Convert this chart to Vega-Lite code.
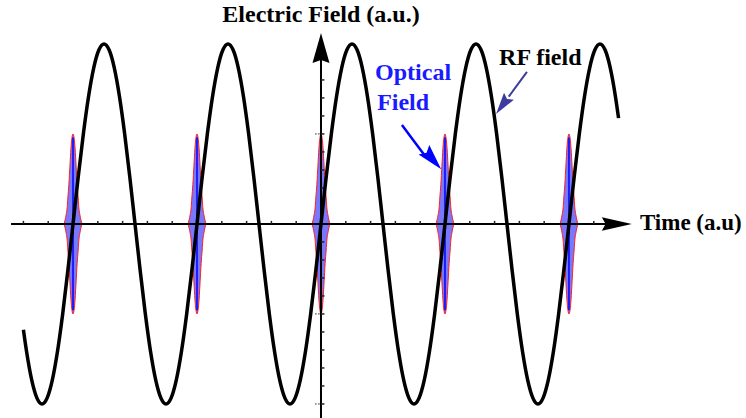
{
  "$schema": "https://vega.github.io/schema/vega-lite/v6.json",
  "width": 746,
  "height": 418,
  "padding": 0,
  "autosize": {"type": "none"},
  "background": "white",
  "config": {"view": {"stroke": null}},
  "data": {"values": [{"one": 1}]},
  "datasets": {
    "rf": [
      {"x":-864,"E":-0.5878},{"x":-855,"E":-0.7071},{"x":-840,"E":-0.866},{"x":-825,"E":-0.9659},{"x":-810,"E":-1},{"x":-795,"E":-0.9659},{"x":-780,"E":-0.866},{"x":-765,"E":-0.7071},{"x":-750,"E":-0.5},{"x":-735,"E":-0.2588},
      {"x":-720,"E":0},{"x":-705,"E":0.2588},{"x":-690,"E":0.5},{"x":-675,"E":0.7071},{"x":-660,"E":0.866},{"x":-645,"E":0.9659},{"x":-630,"E":1},{"x":-615,"E":0.9659},{"x":-600,"E":0.866},{"x":-585,"E":0.7071},{"x":-570,"E":0.5},{"x":-555,"E":0.2588},
      {"x":-540,"E":0},{"x":-525,"E":-0.2588},{"x":-510,"E":-0.5},{"x":-495,"E":-0.7071},{"x":-480,"E":-0.866},{"x":-465,"E":-0.9659},{"x":-450,"E":-1},{"x":-435,"E":-0.9659},{"x":-420,"E":-0.866},{"x":-405,"E":-0.7071},{"x":-390,"E":-0.5},{"x":-375,"E":-0.2588},
      {"x":-360,"E":0},{"x":-345,"E":0.2588},{"x":-330,"E":0.5},{"x":-315,"E":0.7071},{"x":-300,"E":0.866},{"x":-285,"E":0.9659},{"x":-270,"E":1},{"x":-255,"E":0.9659},{"x":-240,"E":0.866},{"x":-225,"E":0.7071},{"x":-210,"E":0.5},{"x":-195,"E":0.2588},
      {"x":-180,"E":0},{"x":-165,"E":-0.2588},{"x":-150,"E":-0.5},{"x":-135,"E":-0.7071},{"x":-120,"E":-0.866},{"x":-105,"E":-0.9659},{"x":-90,"E":-1},{"x":-75,"E":-0.9659},{"x":-60,"E":-0.866},{"x":-45,"E":-0.7071},{"x":-30,"E":-0.5},{"x":-15,"E":-0.2588},
      {"x":0,"E":0},{"x":15,"E":0.2588},{"x":30,"E":0.5},{"x":45,"E":0.7071},{"x":60,"E":0.866},{"x":75,"E":0.9659},{"x":90,"E":1},{"x":105,"E":0.9659},{"x":120,"E":0.866},{"x":135,"E":0.7071},{"x":150,"E":0.5},{"x":165,"E":0.2588},
      {"x":180,"E":0},{"x":195,"E":-0.2588},{"x":210,"E":-0.5},{"x":225,"E":-0.7071},{"x":240,"E":-0.866},{"x":255,"E":-0.9659},{"x":270,"E":-1},{"x":285,"E":-0.9659},{"x":300,"E":-0.866},{"x":315,"E":-0.7071},{"x":330,"E":-0.5},{"x":345,"E":-0.2588},
      {"x":360,"E":0},{"x":375,"E":0.2588},{"x":390,"E":0.5},{"x":405,"E":0.7071},{"x":420,"E":0.866},{"x":435,"E":0.9659},{"x":450,"E":1},{"x":465,"E":0.9659},{"x":480,"E":0.866},{"x":495,"E":0.7071},{"x":510,"E":0.5},{"x":525,"E":0.2588},
      {"x":540,"E":0},{"x":555,"E":-0.2588},{"x":570,"E":-0.5},{"x":585,"E":-0.7071},{"x":600,"E":-0.866},{"x":615,"E":-0.9659},{"x":630,"E":-1},{"x":645,"E":-0.9659},{"x":660,"E":-0.866},{"x":675,"E":-0.7071},{"x":690,"E":-0.5},{"x":705,"E":-0.2588},
      {"x":720,"E":0},{"x":735,"E":0.2588},{"x":750,"E":0.5},{"x":765,"E":0.7071},{"x":780,"E":0.866},{"x":795,"E":0.9659},{"x":810,"E":1},{"x":825,"E":0.9659},{"x":840,"E":0.866},{"x":855,"E":0.7071},{"x":864,"E":0.5878}
    ],
    "pulse": [
      {"p":1,"x":-746,"hi":0,"lo":0},{"p":1,"x":-743,"hi":0.022,"lo":-0.022},{"p":1,"x":-740,"hi":0.05,"lo":-0.05},{"p":1,"x":-737,"hi":0.09,"lo":-0.09},{"p":1,"x":-735,"hi":0.145,"lo":-0.145},{"p":1,"x":-732,"hi":0.22,"lo":-0.22},{"p":1,"x":-729,"hi":0.32,"lo":-0.32},{"p":1,"x":-726,"hi":0.42,"lo":-0.42},{"p":1,"x":-723,"hi":0.48,"lo":-0.48},{"p":1,"x":-720,"hi":0.5,"lo":-0.5},{"p":1,"x":-717,"hi":0.48,"lo":-0.48},{"p":1,"x":-714,"hi":0.42,"lo":-0.42},{"p":1,"x":-711,"hi":0.32,"lo":-0.32},{"p":1,"x":-708,"hi":0.22,"lo":-0.22},{"p":1,"x":-705,"hi":0.145,"lo":-0.145},{"p":1,"x":-703,"hi":0.09,"lo":-0.09},{"p":1,"x":-700,"hi":0.05,"lo":-0.05},{"p":1,"x":-697,"hi":0.022,"lo":-0.022},{"p":1,"x":-694,"hi":0,"lo":0},
      {"p":2,"x":-386,"hi":0,"lo":0},{"p":2,"x":-383,"hi":0.022,"lo":-0.022},{"p":2,"x":-380,"hi":0.05,"lo":-0.05},{"p":2,"x":-377,"hi":0.09,"lo":-0.09},{"p":2,"x":-375,"hi":0.145,"lo":-0.145},{"p":2,"x":-372,"hi":0.22,"lo":-0.22},{"p":2,"x":-369,"hi":0.32,"lo":-0.32},{"p":2,"x":-366,"hi":0.42,"lo":-0.42},{"p":2,"x":-363,"hi":0.48,"lo":-0.48},{"p":2,"x":-360,"hi":0.5,"lo":-0.5},{"p":2,"x":-357,"hi":0.48,"lo":-0.48},{"p":2,"x":-354,"hi":0.42,"lo":-0.42},{"p":2,"x":-351,"hi":0.32,"lo":-0.32},{"p":2,"x":-348,"hi":0.22,"lo":-0.22},{"p":2,"x":-345,"hi":0.145,"lo":-0.145},{"p":2,"x":-343,"hi":0.09,"lo":-0.09},{"p":2,"x":-340,"hi":0.05,"lo":-0.05},{"p":2,"x":-337,"hi":0.022,"lo":-0.022},{"p":2,"x":-334,"hi":0,"lo":0},
      {"p":3,"x":-26,"hi":0,"lo":0},{"p":3,"x":-23,"hi":0.022,"lo":-0.022},{"p":3,"x":-20,"hi":0.05,"lo":-0.05},{"p":3,"x":-17,"hi":0.09,"lo":-0.09},{"p":3,"x":-15,"hi":0.145,"lo":-0.145},{"p":3,"x":-12,"hi":0.22,"lo":-0.22},{"p":3,"x":-9,"hi":0.32,"lo":-0.32},{"p":3,"x":-6,"hi":0.42,"lo":-0.42},{"p":3,"x":-3,"hi":0.48,"lo":-0.48},{"p":3,"x":0,"hi":0.5,"lo":-0.5},{"p":3,"x":3,"hi":0.48,"lo":-0.48},{"p":3,"x":6,"hi":0.42,"lo":-0.42},{"p":3,"x":9,"hi":0.32,"lo":-0.32},{"p":3,"x":12,"hi":0.22,"lo":-0.22},{"p":3,"x":15,"hi":0.145,"lo":-0.145},{"p":3,"x":17,"hi":0.09,"lo":-0.09},{"p":3,"x":20,"hi":0.05,"lo":-0.05},{"p":3,"x":23,"hi":0.022,"lo":-0.022},{"p":3,"x":26,"hi":0,"lo":0},
      {"p":4,"x":334,"hi":0,"lo":0},{"p":4,"x":337,"hi":0.022,"lo":-0.022},{"p":4,"x":340,"hi":0.05,"lo":-0.05},{"p":4,"x":343,"hi":0.09,"lo":-0.09},{"p":4,"x":345,"hi":0.145,"lo":-0.145},{"p":4,"x":348,"hi":0.22,"lo":-0.22},{"p":4,"x":351,"hi":0.32,"lo":-0.32},{"p":4,"x":354,"hi":0.42,"lo":-0.42},{"p":4,"x":357,"hi":0.48,"lo":-0.48},{"p":4,"x":360,"hi":0.5,"lo":-0.5},{"p":4,"x":363,"hi":0.48,"lo":-0.48},{"p":4,"x":366,"hi":0.42,"lo":-0.42},{"p":4,"x":369,"hi":0.32,"lo":-0.32},{"p":4,"x":372,"hi":0.22,"lo":-0.22},{"p":4,"x":375,"hi":0.145,"lo":-0.145},{"p":4,"x":377,"hi":0.09,"lo":-0.09},{"p":4,"x":380,"hi":0.05,"lo":-0.05},{"p":4,"x":383,"hi":0.022,"lo":-0.022},{"p":4,"x":386,"hi":0,"lo":0},
      {"p":5,"x":694,"hi":0,"lo":0},{"p":5,"x":697,"hi":0.022,"lo":-0.022},{"p":5,"x":700,"hi":0.05,"lo":-0.05},{"p":5,"x":703,"hi":0.09,"lo":-0.09},{"p":5,"x":705,"hi":0.145,"lo":-0.145},{"p":5,"x":708,"hi":0.22,"lo":-0.22},{"p":5,"x":711,"hi":0.32,"lo":-0.32},{"p":5,"x":714,"hi":0.42,"lo":-0.42},{"p":5,"x":717,"hi":0.48,"lo":-0.48},{"p":5,"x":720,"hi":0.5,"lo":-0.5},{"p":5,"x":723,"hi":0.48,"lo":-0.48},{"p":5,"x":726,"hi":0.42,"lo":-0.42},{"p":5,"x":729,"hi":0.32,"lo":-0.32},{"p":5,"x":732,"hi":0.22,"lo":-0.22},{"p":5,"x":735,"hi":0.145,"lo":-0.145},{"p":5,"x":737,"hi":0.09,"lo":-0.09},{"p":5,"x":740,"hi":0.05,"lo":-0.05},{"p":5,"x":743,"hi":0.022,"lo":-0.022},{"p":5,"x":746,"hi":0,"lo":0}
    ],
    "centers": [{"x":-720},{"x":-360},{"x":0},{"x":360},{"x":720}],
    "xticks": [{"x":-864},{"x":-792},{"x":-720},{"x":-648},{"x":-576},{"x":-504},{"x":-432},{"x":-360},{"x":-288},{"x":-216},{"x":-144},{"x":-72},{"x":72},{"x":144},{"x":216},{"x":288},{"x":360},{"x":432},{"x":504},{"x":576},{"x":648},{"x":720},{"x":792}],
    "yticks": [{"y":0.8},{"y":0.7},{"y":0.6},{"y":0.5},{"y":0.4},{"y":0.3},{"y":0.2},{"y":0.1},{"y":-0.1},{"y":-0.2},{"y":-0.3},{"y":-0.4},{"y":-0.5},{"y":-0.6},{"y":-0.7},{"y":-0.8},{"y":-0.9},{"y":-1.0}],
    "ymajor": [{"y":0.5},{"y":-0.5},{"y":-1.0}]
  },
  "layer": [
    {
      "data": {"name": "pulse"},
      "mark": {"type": "area", "interpolate": "monotone", "fill": "#3f3fff", "fillOpacity": 0.7, "stroke": "#ff2020", "strokeWidth": 1},
      "encoding": {
        "x": {"field": "x", "type": "quantitative", "scale": {"domain": [-932, 1234], "nice": false, "zero": false}, "axis": null},
        "y": {"field": "hi", "type": "quantitative", "scale": {"domain": [-1.078, 1.244], "nice": false, "zero": false}, "axis": null},
        "y2": {"field": "lo"},
        "detail": {"field": "p", "type": "nominal"}
      }
    },
    {
      "data": {"name": "centers"},
      "mark": {"type": "rule", "color": "#0000ff", "strokeWidth": 1.5},
      "encoding": {
        "x": {"field": "x", "type": "quantitative"},
        "y": {"datum": -0.48, "type": "quantitative"},
        "y2": {"datum": 0.48}
      }
    },
    {
      "mark": {"type": "rule", "color": "black", "strokeWidth": 2},
      "encoding": {
        "x": {"datum": -900, "type": "quantitative"},
        "x2": {"datum": 832},
        "y": {"datum": 0, "type": "quantitative"}
      }
    },
    {
      "mark": {"type": "rule", "color": "black", "strokeWidth": 2},
      "encoding": {
        "x": {"datum": 0, "type": "quantitative"},
        "y": {"datum": -1.1, "type": "quantitative"},
        "y2": {"datum": 0.92}
      }
    },
    {
      "data": {"name": "xticks"},
      "mark": {"type": "rule", "color": "#222222", "strokeWidth": 1.5},
      "encoding": {
        "x": {"field": "x", "type": "quantitative"},
        "y": {"datum": 0, "type": "quantitative"},
        "y2": {"datum": 0.017}
      }
    },
    {
      "data": {"name": "yticks"},
      "mark": {"type": "rule", "color": "#222222", "strokeWidth": 1.5},
      "encoding": {
        "x": {"datum": 0, "type": "quantitative"},
        "x2": {"datum": 10},
        "y": {"field": "y", "type": "quantitative"}
      }
    },
    {
      "data": {"name": "ymajor"},
      "mark": {"type": "rule", "color": "#222222", "strokeWidth": 1, "strokeDash": [1.5, 1.5]},
      "encoding": {
        "x": {"datum": -17, "type": "quantitative"},
        "x2": {"datum": 0},
        "y": {"field": "y", "type": "quantitative"}
      }
    },
    {
      "mark": {"type": "point", "shape": "M1,0L-1,0.45L-0.75,0L-1,-0.45Z", "filled": true, "color": "black", "opacity": 1, "size": 900, "strokeWidth": 0},
      "encoding": {
        "x": {"datum": 859, "type": "quantitative"},
        "y": {"datum": 0, "type": "quantitative"}
      }
    },
    {
      "mark": {"type": "point", "shape": "M0,-1L0.567,1L0,0.8L-0.567,1Z", "filled": true, "color": "black", "opacity": 1, "size": 900, "strokeWidth": 0},
      "encoding": {
        "x": {"datum": 0, "type": "quantitative"},
        "y": {"datum": 0.978, "type": "quantitative"}
      }
    },
    {
      "data": {"name": "rf"},
      "mark": {"type": "line", "interpolate": "monotone", "color": "black", "strokeWidth": 3.5},
      "encoding": {
        "x": {"field": "x", "type": "quantitative"},
        "y": {"field": "E", "type": "quantitative"}
      }
    },
    {
      "mark": {"type": "rule", "color": "#0000ff", "strokeWidth": 2.5},
      "encoding": {
        "x": {"datum": 235, "type": "quantitative"},
        "y": {"datum": 0.55, "type": "quantitative"},
        "x2": {"datum": 305},
        "y2": {"datum": 0.37}
      }
    },
    {
      "mark": {"type": "point", "shape": "M1,0L-1,0.55L-0.7,0L-1,-0.55Z", "filled": true, "color": "#0000ff", "opacity": 1, "size": 676, "strokeWidth": 0, "angle": 48.4},
      "encoding": {
        "x": {"datum": 324, "type": "quantitative"},
        "y": {"datum": 0.358, "type": "quantitative"}
      }
    },
    {
      "mark": {"type": "rule", "color": "#3c3ca0", "strokeWidth": 2},
      "encoding": {
        "x": {"datum": 598, "type": "quantitative"},
        "y": {"datum": 0.845, "type": "quantitative"},
        "x2": {"datum": 545},
        "y2": {"datum": 0.707}
      }
    },
    {
      "mark": {"type": "point", "shape": "M1,0L-1,0.55L-0.7,0L-1,-0.55Z", "filled": true, "color": "#3c3ca0", "opacity": 1, "size": 484, "strokeWidth": 0, "angle": 125.9},
      "encoding": {
        "x": {"datum": 527, "type": "quantitative"},
        "y": {"datum": 0.66, "type": "quantitative"}
      }
    },
    {
      "mark": {"type": "text", "text": "Electric Field (a.u.)", "font": "Liberation Serif", "fontWeight": "bold", "fontSize": 24, "align": "center", "baseline": "alphabetic", "color": "black"},
      "encoding": {
        "x": {"datum": 0, "type": "quantitative"},
        "y": {"datum": 1.122, "type": "quantitative"}
      }
    },
    {
      "mark": {"type": "text", "text": "Optical", "font": "Liberation Serif", "fontWeight": "bold", "fontSize": 24, "align": "left", "baseline": "alphabetic", "color": "#1a1aff"},
      "encoding": {
        "x": {"datum": 157, "type": "quantitative"},
        "y": {"datum": 0.8, "type": "quantitative"}
      }
    },
    {
      "mark": {"type": "text", "text": "Field", "font": "Liberation Serif", "fontWeight": "bold", "fontSize": 24, "align": "left", "baseline": "alphabetic", "color": "#1a1aff"},
      "encoding": {
        "x": {"datum": 163, "type": "quantitative"},
        "y": {"datum": 0.633, "type": "quantitative"}
      }
    },
    {
      "mark": {"type": "text", "text": "RF field", "font": "Liberation Serif", "fontWeight": "bold", "fontSize": 24, "align": "left", "baseline": "alphabetic", "color": "black"},
      "encoding": {
        "x": {"datum": 517, "type": "quantitative"},
        "y": {"datum": 0.883, "type": "quantitative"}
      }
    },
    {
      "mark": {"type": "text", "text": "Time (a.u)", "font": "Liberation Serif", "fontWeight": "bold", "fontSize": 23, "align": "left", "baseline": "alphabetic", "color": "black"},
      "encoding": {
        "x": {"datum": 926, "type": "quantitative"},
        "y": {"datum": -0.033, "type": "quantitative"}
      }
    }
  ]
}
